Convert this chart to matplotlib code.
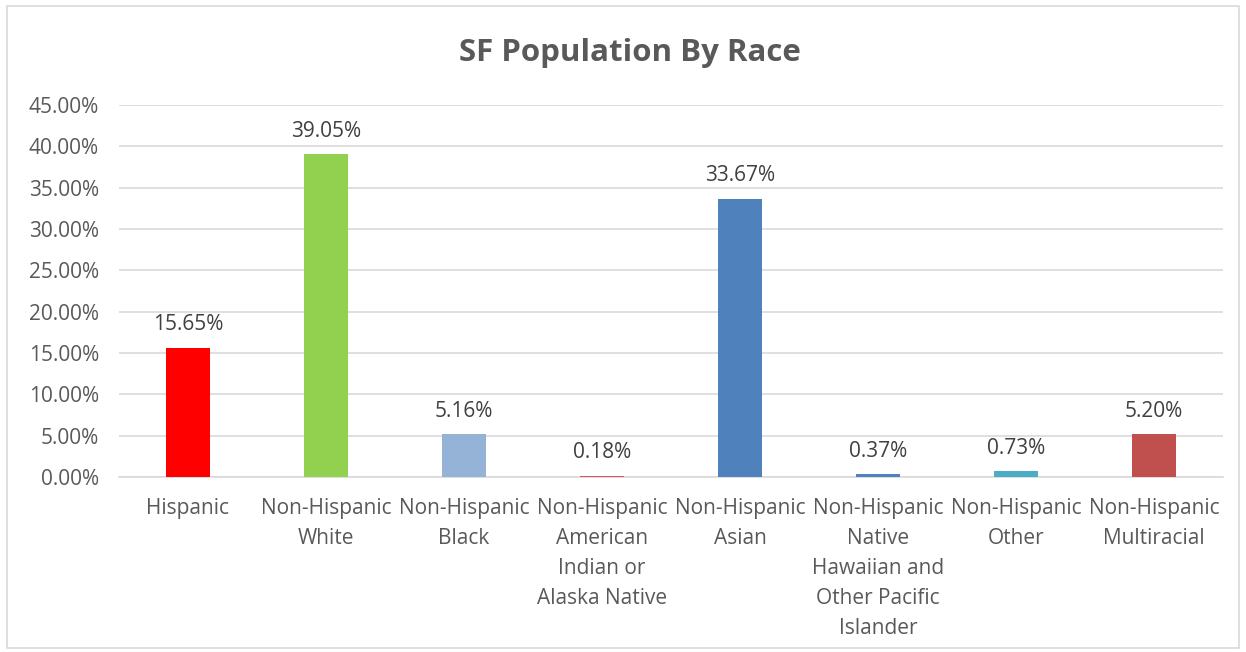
import matplotlib
matplotlib.use("Agg")
import matplotlib.pyplot as plt
from matplotlib.patches import Rectangle
from matplotlib.ticker import FuncFormatter, MultipleLocator

categories = ["Hispanic", "Non-Hispanic\nWhite", "Non-Hispanic\nBlack",
              "Non-Hispanic\nAmerican\nIndian or\nAlaska Native", "Non-Hispanic\nAsian",
              "Non-Hispanic\nNative\nHawaiian and\nOther Pacific\nIslander",
              "Non-Hispanic\nOther", "Non-Hispanic\nMultiracial"]
values = [15.65, 39.05, 5.16, 0.18, 33.67, 0.37, 0.73, 5.20]
colors = ["#FF0000", "#92D050", "#95B3D7", "#E0505A", "#4F81BD", "#4F81BD", "#4BACC6", "#C0504D"]

plt.rcParams['font.family'] = ['Open Sans', 'DejaVu Sans']
fig = plt.figure(figsize=(12.46, 6.52), dpi=100)
ax = fig.add_axes([0.0955, 0.2684, 0.8860, 0.5706])
x = range(len(categories))
ax.bar(x, values, width=0.32, color=colors, zorder=3)
for xi, v in zip(x, values):
    ax.text(xi, v + 1.5, f"{v:.2f}%", ha="center", va="bottom", fontsize=15, color="#404040")
ax.set_xlim(-0.5, len(categories) - 0.5)
ax.set_ylim(0, 45)
ax.yaxis.set_major_locator(MultipleLocator(5))
ax.yaxis.set_major_formatter(FuncFormatter(lambda v, p: f"{v:.2f}%"))
ax.set_xticks(list(x))
ax.set_xticklabels(categories, fontsize=15, color="#595959", linespacing=1.56, va="top")
ax.tick_params(axis="y", labelsize=15, labelcolor="#595959", length=0, pad=14.5)
ax.tick_params(axis="x", length=0, pad=15)
ax.grid(axis="y", color="#D9D9D9", linewidth=1.2, zorder=0)
for s in ["top", "right", "left"]:
    ax.spines[s].set_visible(False)
ax.spines["bottom"].set_color("#D9D9D9")
ax.spines["bottom"].set_linewidth(1.2)
fig.text(0.5056, 0.918, "SF Population By Race", ha="center", va="center",
         fontsize=22.5, fontweight="bold", color="#595959")
fig.patches.append(Rectangle((0.006, 0.006), 0.988, 0.985, transform=fig.transFigure,
                             fill=False, edgecolor="#D9D9D9", linewidth=1.2))
fig.savefig("out.png", dpi=100)
